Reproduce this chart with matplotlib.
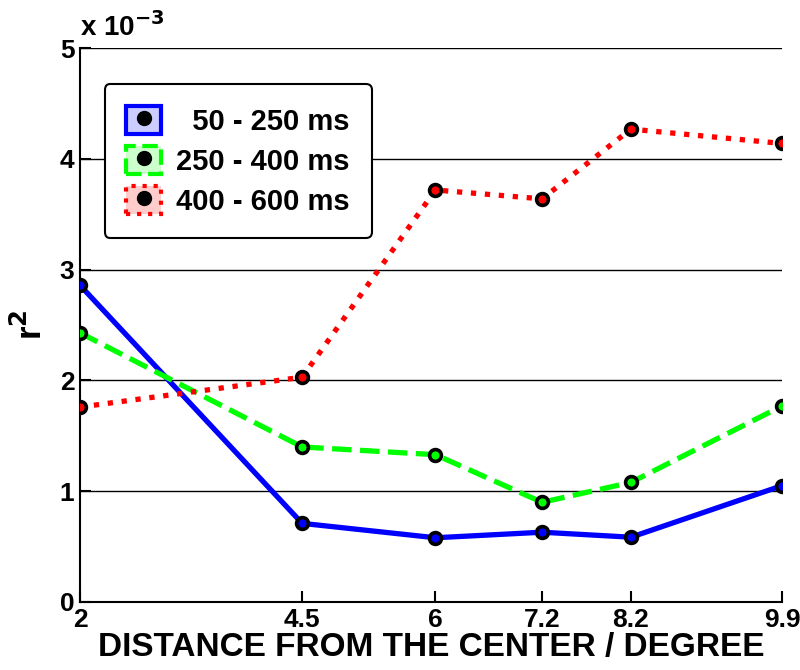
import numpy as np
import matplotlib.pyplot as plt
from matplotlib.patches import Patch
from matplotlib.lines import Line2D
from matplotlib.colors import to_rgb

# Data (r^2 in units of 1e-3)
distance = [2, 4.5, 6, 7.2, 8.2, 9.9]
r2_early = [2.86, 0.71, 0.58, 0.63, 0.585, 1.05]   # 50 - 250 ms
r2_mid = [2.43, 1.40, 1.33, 0.90, 1.08, 1.77]      # 250 - 400 ms
r2_late = [1.76, 2.03, 3.72, 3.64, 4.27, 4.14]     # 400 - 600 ms
labels = ['  50 - 250 ms', '250 - 400 ms', '400 - 600 ms']
colors = ['#0000ff', '#00ff00', '#ff0000']
styles = ['-', '--', ':']

plt.rcParams['font.family'] = ['Liberation Sans', 'DejaVu Sans']
plt.rcParams['font.weight'] = 'bold'
plt.rcParams['mathtext.default'] = 'bf'

fig = plt.figure(figsize=(8, 6.7), dpi=100)
ax = fig.add_axes([0.1, 0.1015, 0.8775, 0.8265])

series = [r2_early, r2_mid, r2_late]
for y, c, ls in zip(series, colors, styles):
    ax.plot(distance, y, linestyle=ls, color=c, linewidth=3.8,
            marker='o', markersize=8.5, markerfacecolor=c,
            markeredgecolor='black', markeredgewidth=2.6, zorder=3)

ax.set_xlim(2, 9.9)
ax.set_ylim(0, 5)
ax.set_xticks(distance)
ax.set_xticklabels(['2', '4.5', '6', '7.2', '8.2', '9.9'])
ax.set_yticks([0, 1, 2, 3, 4, 5])
ax.yaxis.grid(True, color='black', linewidth=1)
ax.set_axisbelow(True)
ax.spines['top'].set_visible(False)
ax.spines['right'].set_visible(False)
for s in ['left', 'bottom']:
    ax.spines[s].set_linewidth(1.5)
ax.tick_params(direction='in', length=8, width=1.5, labelsize=19, pad=4)
for lab in ax.get_xticklabels() + ax.get_yticklabels():
    lab.set_fontweight('bold')

ax.set_xlabel('DISTANCE FROM THE CENTER / DEGREE', fontsize=24,
              fontweight='bold', labelpad=0)
ax.set_ylabel('r$^2$', fontsize=25, fontweight='bold', labelpad=8)
ax.text(0.0, 1.012, 'x 10$^{-3}$', transform=ax.transAxes,
        fontsize=20, fontweight='bold', ha='left', va='bottom')

handles = []
for c, ls in zip(colors, styles):
    p = Patch(facecolor=(*to_rgb(c), 0.2), edgecolor=c, linestyle=ls, linewidth=3)
    m = Line2D([], [], linestyle='none', marker='o', color='black', markersize=10)
    handles.append((p, m))
leg = ax.legend(handles, labels, loc='upper left', bbox_to_anchor=(0.035, 0.935),
                borderaxespad=0, fontsize=21, frameon=True, fancybox=True,
                handlelength=1.2, handleheight=1.1, handletextpad=0.5,
                borderpad=0.75, labelspacing=0.35, framealpha=1)
leg.get_frame().set_edgecolor('black')
leg.get_frame().set_linewidth(1.5)
for t in leg.get_texts():
    t.set_fontweight('bold')

fig.savefig('out.png', dpi=100)
